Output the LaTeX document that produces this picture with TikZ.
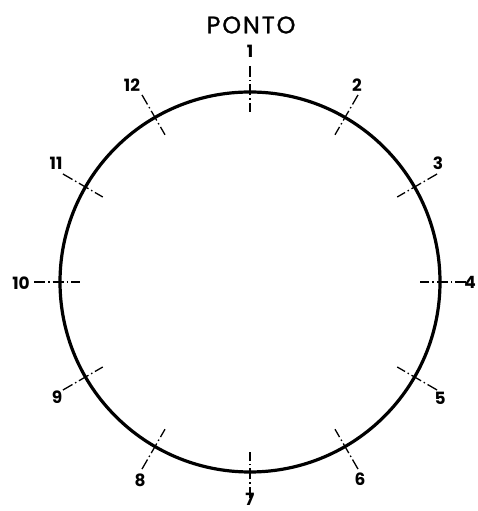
\documentclass[tikz,border=0pt]{standalone}
\usepackage{fontspec}
\setmainfont{Poppins}
\newfontfamily\titlefont[LetterSpace=8,FakeBold=1.2]{Poppins}
\usepackage{tikz}

\begin{document}
\begin{tikzpicture}[x=1bp, y=1bp,
    every node/.style={font=\fontsize{17}{17}\selectfont\bfseries, inner sep=1pt},
    marca/.style={line width=1.3bp, dash pattern=on 11bp off 3bp on 1.5bp off 3bp},
    contorno/.style={line width=3.2bp}]
  \useasboundingbox (0,0) rectangle (478,511);

  % titulo
  \node[font=\titlefont\fontsize{24}{24}\selectfont] (titulo) at (251,486) {PONTO};

  % circulo e marcas
  \begin{scope}[shift={(250,229)}]
    \draw[contorno] (0,0) circle (190);
    \foreach \a in {90,60,...,-240}
      \draw[marca] (\a:216) -- (\a:170);
  \end{scope}

  % numeros
  \node (p1)  at (250,460) {1};
  \node (p2)  at (357,426) {2};
  \node (p3)  at (438,348) {3};
  \node (p4)  at (470,229) {4};
  \node (p5)  at (440,113) {5};
  \node (p6)  at (360,32)  {6};
  \node[inner sep=0pt] (p7) at (250,5) [anchor=south] {7};
  \node (p8)  at (140,31)  {8};
  \node (p9)  at (57,114)  {9};
  \node (p10) at (21,228)  {10};
  \node (p11) at (56,348)  {11};
  \node (p12) at (132,426) {12};
\end{tikzpicture}
\end{document}
